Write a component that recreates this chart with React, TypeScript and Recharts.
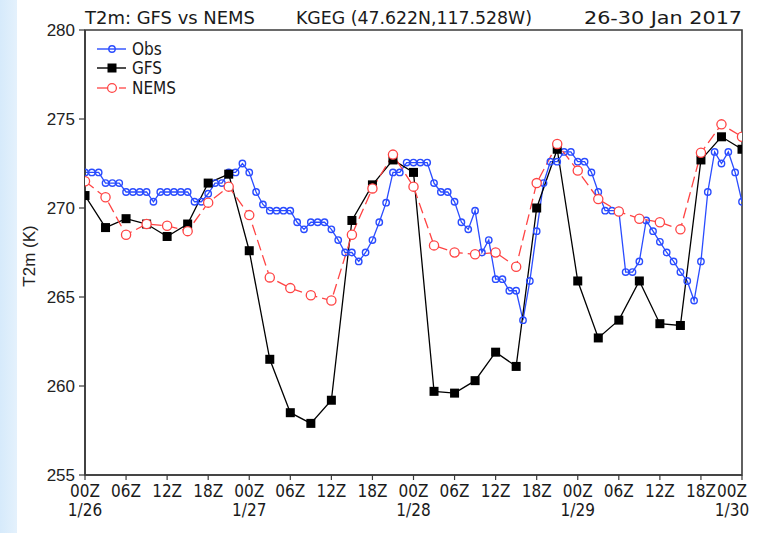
import React from "react";
import { LineChart, Line, XAxis, YAxis, ReferenceArea } from "recharts";

// forecast valid hours (from 00Z 1/26), models every 3 h
const modelHours = [0, 3, 6, 9, 12, 15, 18, 21, 24, 27, 30, 33, 36, 39, 42, 45, 48, 51, 54, 57, 60, 63, 66, 69, 72, 75, 78, 81, 84, 87, 90, 93, 96];

const gfsT2m = [
  270.7, 268.9, 269.4, 269.1, 268.4, 269.1, 271.4, 271.9,
  267.6, 261.5, 258.5, 257.9, 259.2, 269.3, 271.3, 272.7,
  272.0, 259.7, 259.6, 260.3, 261.9, 261.1, 270.0, 273.3,
  265.9, 262.7, 263.7, 265.9, 263.5, 263.4, 272.7, 274.0,
  273.3,
];

const nemsT2m = [
  271.5, 270.6, 268.5, 269.1, 269.0, 268.7, 270.3, 271.2,
  269.6, 266.1, 265.5, 265.1, 264.8, 268.5, 271.1, 273.0,
  271.2, 267.9, 267.5, 267.4, 267.5, 266.7, 271.4, 273.6,
  272.1, 270.5, 269.8, 269.4, 269.2, 268.8, 273.1, 274.7,
  274.0,
];

// hourly observations
const obsHours = [
  0, 1, 2, 3, 4, 5, 6, 7, 8, 9, 10, 11,
  12, 13, 14, 15, 16, 17, 18, 19, 20, 21, 22, 23,
  24, 25, 26, 27, 28, 29, 30, 31, 32, 33, 34, 35,
  36, 37, 38, 39, 40, 41, 42, 43, 44, 45, 46, 47,
  48, 49, 50, 51, 52, 53, 54, 55, 56, 57, 58, 59,
  60, 61, 62, 63, 64, 65, 66, 67, 68, 69, 70, 71,
  72, 73, 74, 75, 76, 77, 78, 79, 80, 81, 82, 83,
  84, 85, 86, 87, 88, 89, 90, 91, 92, 93, 94, 95,
  96,
];

const obsT2m = [
  272.0, 272.0, 272.0, 271.4, 271.4, 271.4, 270.9, 270.9, 270.9, 270.9, 270.35, 270.9,
  270.9, 270.9, 270.9, 270.9, 270.35, 270.35, 270.8, 271.4, 271.4, 272.0, 272.0, 272.5,
  272.0, 270.9, 270.2, 269.85, 269.85, 269.85, 269.85, 269.2, 268.8, 269.2, 269.2, 269.2,
  268.8, 268.2, 267.5, 267.5, 267.0, 267.5, 268.2, 269.2, 270.3, 272.0, 272.0, 272.55,
  272.55, 272.55, 272.55, 271.4, 270.9, 270.9, 270.35, 269.2, 268.8, 269.85, 267.5, 268.2,
  266.0, 266.0, 265.35, 265.35, 263.7, 265.9, 268.7, 271.4, 272.6, 272.6, 273.15, 273.15,
  272.6, 272.6, 272.0, 270.9, 269.85, 269.85, 269.85, 266.4, 266.4, 267.0, 269.3, 268.7,
  268.1, 267.5, 267.0, 266.4, 265.9, 264.8, 267.0, 270.9, 273.15, 272.5, 273.15, 272.0,
  270.35,
];

const xTicks = [0, 6, 12, 18, 24, 30, 36, 42, 48, 54, 60, 66, 72, 78, 84, 90, 96];
const hourLabels = ["00Z", "06Z", "12Z", "18Z"];
const dayLabels = ["1/26", "1/27", "1/28", "1/29", "1/30"];
const yTicks = [255, 260, 265, 270, 275, 280];

const OBS_BLUE = "#2a4cff";
const NEMS_RED = "#ff4444";
const AXIS = "#3a3a3a";
const GRADS_FONT = "'DejaVu Sans Condensed', 'Liberation Sans Narrow', 'DejaVu Sans', sans-serif";
const ARIAL = "'Liberation Sans', Arial, sans-serif";

const obsData = obsHours.map((h, i) => ({ h, v: obsT2m[i] }));
const gfsData = modelHours.map((h, i) => ({ h, v: gfsT2m[i] }));
const nemsData = modelHours.map((h, i) => ({ h, v: nemsT2m[i] }));

function HourTick(props: any) {
  const { x, y, payload } = props;
  const h = payload.value as number;
  const label = hourLabels[(h % 24) / 6];
  const day = h % 24 === 0 ? dayLabels[h / 24] : null;
  const dx = h === 96 ? -10 : 0;
  return (
    <g transform={`translate(${x + dx},${y})`}>
      <text textAnchor="middle" y={15} fontSize={17} fontFamily={GRADS_FONT} fill="#1a1a1a">
        {label}
      </text>
      {day && (
        <text textAnchor="middle" y={34} fontSize={17} fontFamily={GRADS_FONT} fill="#1a1a1a">
          {day}
        </text>
      )}
    </g>
  );
}

const obsDot = (p: any) => (
  <circle key={`o${p.index}`} cx={p.cx} cy={p.cy} r={3.2} fill="none" stroke={OBS_BLUE} strokeWidth={1.4} />
);
const gfsDot = (p: any) => (
  <rect key={`g${p.index}`} x={p.cx - 4.5} y={p.cy - 4.5} width={9} height={9} fill="#000" />
);
const nemsDot = (p: any) => (
  <circle key={`n${p.index}`} cx={p.cx} cy={p.cy} r={4.6} fill="#fff" stroke={NEMS_RED} strokeWidth={1.3} />
);

function Overlay() {
  return (
    <svg width={761} height={533} style={{ position: "absolute", left: 0, top: 0, pointerEvents: "none" }}>
      <text x={85} y={24} fontSize={18} fontFamily={GRADS_FONT} fill="#1a1a1a" textLength={170} lengthAdjust="spacingAndGlyphs">
        T2m: GFS vs NEMS
      </text>
      <text x={296} y={24} fontSize={18} fontFamily={GRADS_FONT} fill="#1a1a1a" textLength={236} lengthAdjust="spacingAndGlyphs">
        KGEG (47.622N,117.528W)
      </text>
      <text x={742} y={24} textAnchor="end" fontSize={18} fontFamily={GRADS_FONT} fill="#1a1a1a" textLength={158} lengthAdjust="spacingAndGlyphs">
        26-30 Jan 2017
      </text>
      <text transform="translate(35,256) rotate(-90)" textAnchor="middle" fontSize={17} fontFamily={ARIAL} fill="#222">
        T2m (K)
      </text>
      {/* legend */}
      <g>
        <line x1={97} x2={126} y1={49} y2={49} stroke={OBS_BLUE} strokeWidth={1.4} />
        <circle cx={112} cy={49} r={3.2} fill="none" stroke={OBS_BLUE} strokeWidth={1.4} />
        <text x={132} y={55} fontSize={17} fontFamily={GRADS_FONT} fill="#1a1a1a">Obs</text>
        <line x1={97} x2={126} y1={68} y2={68} stroke="#000" strokeWidth={1.4} />
        <rect x={107.5} y={63.5} width={9} height={9} fill="#000" />
        <text x={132} y={74} fontSize={17} fontFamily={GRADS_FONT} fill="#1a1a1a">GFS</text>
        <line x1={97} x2={108} y1={88} y2={88} stroke={NEMS_RED} strokeWidth={1.3} />
        <circle cx={112} cy={88} r={4.4} fill="#fff" stroke={NEMS_RED} strokeWidth={1.3} />
        <line x1={119} x2={126} y1={88} y2={88} stroke={NEMS_RED} strokeWidth={1.3} />
        <text x={132} y={94} fontSize={17} fontFamily={GRADS_FONT} fill="#1a1a1a">NEMS</text>
      </g>
    </svg>
  );
}

export default function App() {
  return (
    <div style={{ position: "absolute", left: 0, top: 0, width: 761, height: 533, background: "#fff", overflow: "hidden" }}>
      <div style={{ position: "absolute", left: 0, top: 0, width: 17, height: 533, background: "linear-gradient(90deg, #d6eafb, #e4f1fc)" }} />
      <LineChart width={761} height={533} data={obsData} margin={{ top: 30, right: 19, bottom: 8, left: 40 }}>
        <XAxis
          type="number"
          dataKey="h"
          domain={[0, 96]}
          ticks={xTicks}
          interval={0}
          allowDataOverflow
          height={50}
          tick={<HourTick />}
          tickSize={5}
          tickMargin={2}
          axisLine={{ stroke: AXIS, strokeWidth: 1.6 }}
          tickLine={{ stroke: AXIS, strokeWidth: 1.2 }}
        />
        <YAxis
          type="number"
          domain={[255, 280]}
          ticks={yTicks}
          interval={0}
          allowDataOverflow
          width={45}
          tickSize={6}
          tickMargin={4}
          tick={{ fontSize: 17, fontFamily: ARIAL, fill: "#222" }}
          axisLine={{ stroke: AXIS, strokeWidth: 1.6 }}
          tickLine={{ stroke: AXIS, strokeWidth: 1.2 }}
        />
        <ReferenceArea x1={0} x2={96} y1={255} y2={280} fill="none" stroke={AXIS} strokeWidth={1.6} />
        <Line
          data={obsData}
          dataKey="v"
          name="Obs"
          stroke={OBS_BLUE}
          strokeWidth={1.3}
          dot={obsDot}
          activeDot={false}
          isAnimationActive={false}
        />
        <Line
          data={gfsData}
          dataKey="v"
          name="GFS"
          stroke="#000"
          strokeWidth={1.3}
          dot={gfsDot}
          activeDot={false}
          isAnimationActive={false}
        />
        <Line
          data={nemsData}
          dataKey="v"
          name="NEMS"
          stroke={NEMS_RED}
          strokeWidth={1.3}
          strokeDasharray="11 5"
          dot={nemsDot}
          activeDot={false}
          isAnimationActive={false}
        />
      </LineChart>
      <Overlay />
    </div>
  );
}
